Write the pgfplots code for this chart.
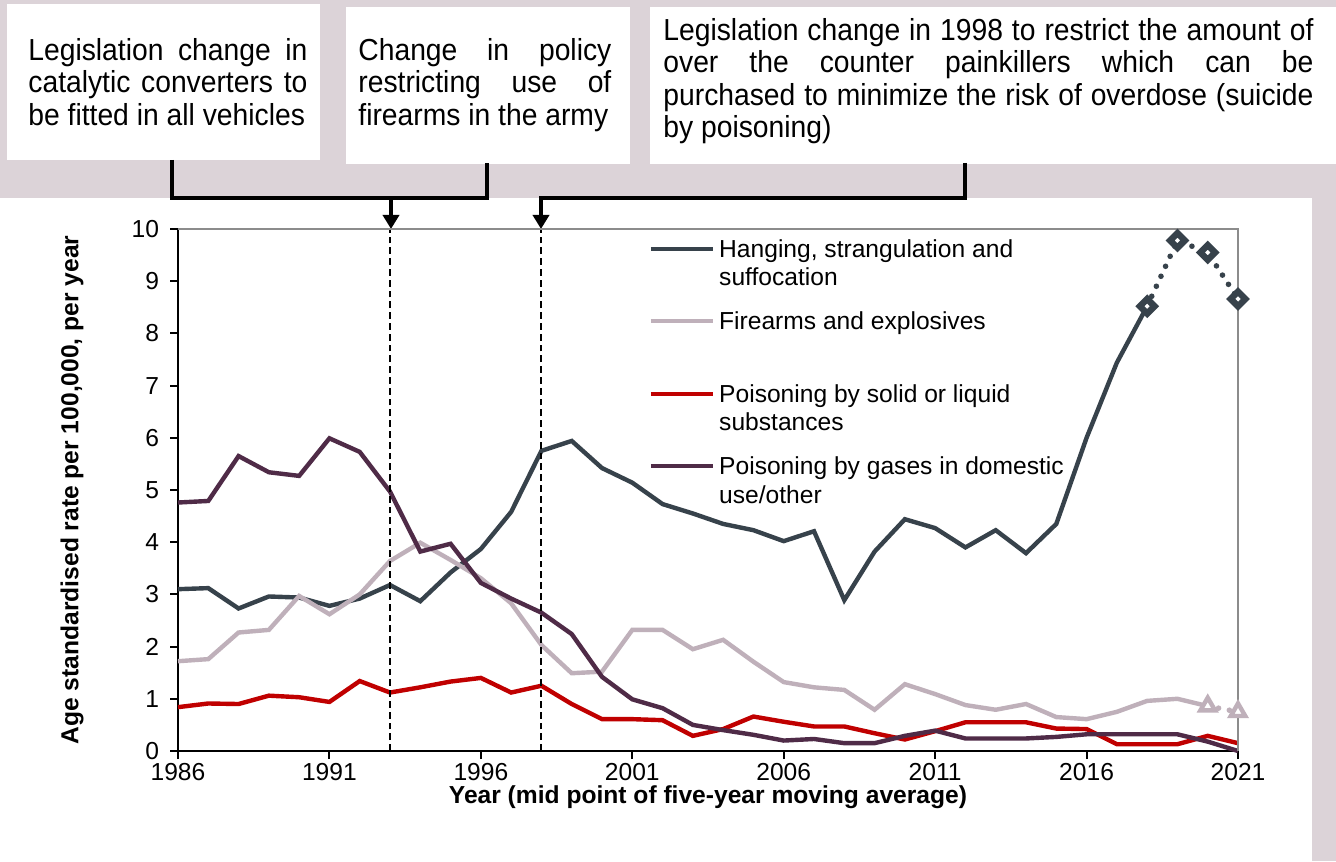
\documentclass[border=0pt]{standalone}
\usepackage{fontspec}
\setmainfont{Liberation Sans}
\usepackage{pgfplots}
\pgfplotsset{compat=1.18}
\usetikzlibrary{arrows.meta}
\definecolor{bggray}{HTML}{DCD3D8}
\definecolor{hang}{HTML}{37424B}
\definecolor{fire}{HTML}{BFB0BA}
\definecolor{pois}{HTML}{C00000}
\definecolor{gas}{HTML}{4F2B47}
\definecolor{axgray}{HTML}{8C8C8C}
\newcommand\fsz{\fontsize{12.3}{14.8}\selectfont}
\newcommand\bxsz{\fontsize{15.2}{17}\selectfont}
\newcommand\sq[2]{\scalebox{0.93}[1]{\makebox[#1][s]{#2}}}
\newcommand\nq[1]{\scalebox{0.93}[1]{#1}}
\begin{document}
\begin{tikzpicture}
\begin{scope}[x=0.5pt,y=-0.5pt,yshift=430.5pt,
  tl/.style={anchor=base west, inner sep=0pt, font=\bxsz}]
\path[use as bounding box] (0,0) rectangle (1336,861);
\fill[white] (0,0) rectangle (1336,861);
\fill[bggray] (0,0) rectangle (1336,198);
\fill[bggray] (1312,0) rectangle (1336,861);
\fill[white] (7,4) rectangle (320,160);
\fill[white] (346,7) rectangle (630,164);
\fill[white] (650,7) rectangle (1336,164);
% box texts
\node[tl] at (28,60.5) {\sq{150pt}{Legislation change in}};
\node[tl] at (28,93) {\sq{150pt}{catalytic converters to}};
\node[tl] at (28,125.5) {\nq{be fitted in all vehicles}};
\node[tl] at (358,60.5) {\sq{136pt}{Change in policy}};
\node[tl] at (358,93) {\sq{136pt}{restricting use of}};
\node[tl] at (358,125.5) {\nq{firearms in the army}};
\node[tl] at (663,40.5) {\sq{349.5pt}{Legislation change in 1998 to restrict the amount of}};
\node[tl] at (663,73) {\sq{349.5pt}{over the counter painkillers which can be}};
\node[tl] at (663,105.5) {\sq{349.5pt}{purchased to minimize the risk of overdose (suicide}};
\node[tl] at (663,138) {\nq{by poisoning)}};
% brackets and arrows
\draw[line width=2pt] (172,160) -- (172,198) -- (487,198) -- (487,163);
\draw[line width=2pt, -{Triangle[width=8pt,length=7pt]}] (391,198) -- (391,229);
\draw[line width=2pt, -{Triangle[width=8pt,length=7pt]}] (965,163) -- (965,198) -- (541,198) -- (541,229);
\end{scope}
\begin{axis}[
  at={(89pt,55pt)}, anchor=south west,
  scale only axis, width=530pt, height=261pt,
  xmin=1986, xmax=2021, ymin=0, ymax=10,
  axis lines=left,
  axis line style={-, black, line width=1pt},
  xtick={1986,1991,...,2021},
  ytick={0,1,...,10},
  tick align=outside,
  major tick length=4pt,
  tick style={black, line width=1pt},
  x tick label style={/pgf/number format/1000 sep={}, yshift=1.3pt},
  y tick label style={xshift=-2pt},
  /pgf/number format/assume math mode=true,
  tick label style={font=\fsz},
  label style={font=\fsz\bfseries},
  xlabel={Year (mid point of five-year moving average)},
  ylabel={Age standardised rate per 100,000, per year},
  xlabel style={at={(axis description cs:0.5,-0.0885)}, anchor=center},
  ylabel style={at={(axis description cs:-0.1,0.5)}, anchor=center},
  clip=false,
  legend style={at={(axis description cs:0.44434,0.98084)}, anchor=north west,
    draw=none, fill=none, inner sep=0pt, outer sep=0pt,
    row sep=0pt, column sep=2.2pt,
    nodes={inner sep=0pt, text depth=, text height=, font=\fsz},
    cells={anchor=base west}},
]
\addplot[hang, line width=2.2pt, forget plot] coordinates {
(1986,3.10)(1987,3.12)(1988,2.73)(1989,2.96)(1990,2.94)(1991,2.78)(1992,2.92)(1993,3.18)(1994,2.87)(1995,3.42)(1996,3.87)(1997,4.58)(1998,5.75)(1999,5.94)(2000,5.42)(2001,5.14)(2002,4.73)(2003,4.55)(2004,4.35)(2005,4.23)(2006,4.02)(2007,4.21)(2008,2.89)(2009,3.82)(2010,4.44)(2011,4.27)(2012,3.90)(2013,4.23)(2014,3.79)(2015,4.35)(2016,6.00)(2017,7.44)(2018,8.52)};
\addplot[fire, line width=2.2pt, forget plot] coordinates {
(1986,1.72)(1987,1.76)(1988,2.27)(1989,2.32)(1990,2.97)(1991,2.62)(1992,3.00)(1993,3.64)(1994,3.99)(1995,3.66)(1996,3.31)(1997,2.83)(1998,2.03)(1999,1.49)(2000,1.52)(2001,2.32)(2002,2.32)(2003,1.95)(2004,2.13)(2005,1.71)(2006,1.32)(2007,1.22)(2008,1.17)(2009,0.79)(2010,1.28)(2011,1.09)(2012,0.88)(2013,0.79)(2014,0.90)(2015,0.65)(2016,0.61)(2017,0.75)(2018,0.96)(2019,1.00)(2020,0.86)};
\addplot[pois, line width=2.2pt, forget plot] coordinates {
(1986,0.84)(1987,0.91)(1988,0.90)(1989,1.06)(1990,1.03)(1991,0.94)(1992,1.34)(1993,1.12)(1994,1.22)(1995,1.33)(1996,1.40)(1997,1.12)(1998,1.25)(1999,0.90)(2000,0.61)(2001,0.61)(2002,0.59)(2003,0.29)(2004,0.42)(2005,0.66)(2006,0.56)(2007,0.47)(2008,0.47)(2009,0.34)(2010,0.22)(2011,0.38)(2012,0.55)(2013,0.55)(2014,0.55)(2015,0.43)(2016,0.42)(2017,0.13)(2018,0.13)(2019,0.13)(2020,0.29)(2021,0.15)};
\addplot[gas, line width=2.2pt, forget plot] coordinates {
(1986,4.76)(1987,4.79)(1988,5.65)(1989,5.34)(1990,5.27)(1991,5.99)(1992,5.73)(1993,4.97)(1994,3.82)(1995,3.97)(1996,3.22)(1997,2.92)(1998,2.65)(1999,2.24)(2000,1.42)(2001,0.99)(2002,0.82)(2003,0.50)(2004,0.40)(2005,0.31)(2006,0.20)(2007,0.23)(2008,0.15)(2009,0.15)(2010,0.29)(2011,0.39)(2012,0.24)(2013,0.24)(2014,0.24)(2015,0.27)(2016,0.32)(2017,0.32)(2018,0.32)(2019,0.32)(2020,0.18)(2021,0.00)};
% projections
\addplot[fire, line width=2.8pt, line cap=round, dash pattern=on 0pt off 5.5pt,
  mark=triangle*, mark size=4.2pt, mark options={solid, fill=white, draw=fire, line width=2.2pt}, forget plot]
  coordinates {(2020,0.86)(2021,0.75)};
\addplot[hang, line width=2.8pt, line cap=round, dash pattern=on 0pt off 5.5pt,
  mark=square*, mark size=2.6pt, mark options={solid, rotate=45, fill=white, draw=hang, line width=3.2pt}, forget plot]
  coordinates {(2018,8.52)(2019,9.78)(2020,9.55)(2021,8.66)};
% reference lines and frame
\draw[black, line width=1pt, dash pattern=on 3.4pt off 2pt] (axis cs:1993,0) -- (axis cs:1993,10);
\draw[black, line width=1pt, dash pattern=on 3.4pt off 2pt] (axis cs:1998,0) -- (axis cs:1998,10);
\draw[axgray, line width=1.25pt] (rel axis cs:0,1) -- (rel axis cs:1,1) -- (rel axis cs:1,0);
% legend
\addlegendimage{legend image code/.code={\draw[hang, line width=1.9pt] (0pt,4.5pt) -- (31pt,4.5pt);}}
\addlegendentry{\rule[-4.5pt]{0pt}{14pt}Hanging, strangulation and}
\addlegendimage{empty legend}
\addlegendentry{\rule[-12.35pt]{0pt}{21.85pt}suffocation}
\addlegendimage{legend image code/.code={\draw[fire, line width=1.9pt] (0pt,4.5pt) -- (31pt,4.5pt);}}
\addlegendentry{\rule[-27.15pt]{0pt}{36.65pt}Firearms and explosives}
\addlegendimage{legend image code/.code={\draw[pois, line width=1.9pt] (0pt,4.5pt) -- (31pt,4.5pt);}}
\addlegendentry{\rule[-4.5pt]{0pt}{14pt}Poisoning by solid or liquid}
\addlegendimage{empty legend}
\addlegendentry{\rule[-12.5pt]{0pt}{22pt}substances}
\addlegendimage{legend image code/.code={\draw[gas, line width=1.9pt] (0pt,4.5pt) -- (31pt,4.5pt);}}
\addlegendentry{\rule[-4.5pt]{0pt}{14pt}Poisoning by gases in domestic}
\addlegendimage{empty legend}
\addlegendentry{\rule[-3pt]{0pt}{12.5pt}use/other}
\end{axis}
\end{tikzpicture}
\end{document}
